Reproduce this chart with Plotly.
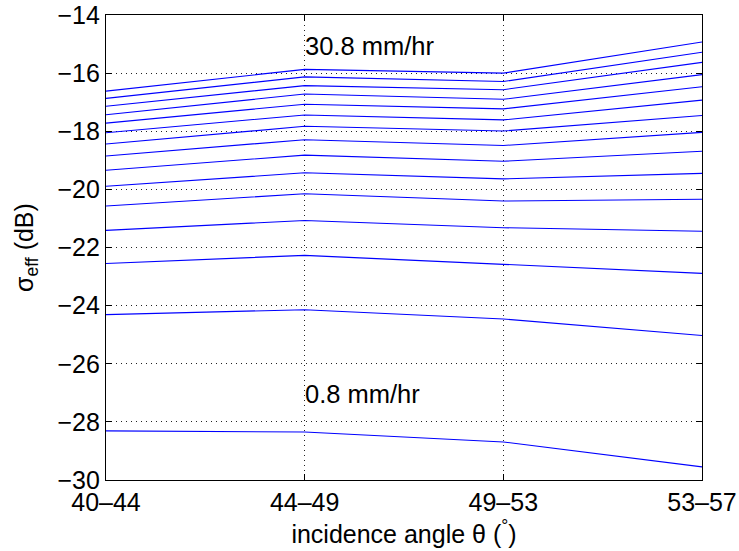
import plotly.graph_objects as go

angle_bins = ["40\u201344", "44\u201349", "49\u201353", "53\u201357"]

# sigma_eff (dB) for 15 rain rates (0.8 mm/hr ... 30.8 mm/hr), one list per angle bin
sigma_40_44 = [-28.31, -24.31, -22.55, -21.41, -20.57, -19.89, -19.34, -18.85,
               -18.44, -18.05, -17.72, -17.43, -17.14, -16.87, -16.62]
sigma_44_49 = [-28.35, -24.14, -22.27, -21.07, -20.15, -19.43, -18.82, -18.29,
               -17.83, -17.44, -17.07, -16.72, -16.43, -16.13, -15.87]
sigma_49_53 = [-28.69, -24.46, -22.58, -21.32, -20.40, -19.64, -19.03, -18.49,
               -17.99, -17.61, -17.23, -16.90, -16.57, -16.29, -16.00]
sigma_53_57 = [-29.55, -25.03, -22.89, -21.44, -20.34, -19.45, -18.69, -18.04,
               -17.46, -16.93, -16.47, -16.05, -15.63, -15.28, -14.93]

y_ticks = [-30, -28, -26, -24, -22, -20, -18, -16, -14]

label_low = "0.8 mm/hr"
label_high = "30.8 mm/hr"

FONT = "Liberation Sans, Arial, Helvetica, sans-serif"
FS = 25

fig = go.Figure()
x_idx = list(range(len(angle_bins)))
for a, b, c, d in zip(sigma_40_44, sigma_44_49, sigma_49_53, sigma_53_57):
    fig.add_trace(go.Scatter(
        x=x_idx, y=[a, b, c, d], mode="lines",
        line=dict(color="#0000ff", width=1.1),
        showlegend=False, hoverinfo="skip"))

fig.add_annotation(x=1, y=-15.07, text=label_high, showarrow=False,
                   xanchor="left", yanchor="middle", xshift=-2,
                   font=dict(size=FS + 0.5, color="black", family=FONT))
fig.add_annotation(x=1, y=-27.04, text=label_low, showarrow=False,
                   xanchor="left", yanchor="middle", xshift=-2,
                   font=dict(size=FS + 0.5, color="black", family=FONT))

grid = dict(showgrid=True, gridcolor="#222222", griddash="1px,4px", gridwidth=1)

fig.update_xaxes(
    range=[0, 3], tickmode="array", tickvals=x_idx, ticktext=angle_bins,
    ticks="inside", ticklen=6, tickcolor="black", tickwidth=1,
    showline=True, linecolor="black", linewidth=1.3, mirror="ticks",
    zeroline=False, automargin=False,
    tickfont=dict(size=FS, color="black", family=FONT),
    title=dict(text="incidence angle \u03b8 (<sup>\u00b0</sup>)",
               font=dict(size=FS, color="black", family=FONT), standoff=2),
    **grid)
fig.update_yaxes(
    range=[-30, -14], tickmode="array", tickvals=y_ticks,
    ticks="inside", ticklen=6, tickcolor="black", tickwidth=1,
    showline=True, linecolor="black", linewidth=1.3, mirror="ticks",
    zeroline=False, automargin=False,
    tickfont=dict(size=FS, color="black", family=FONT),
    title=dict(text="\u03c3<sub>eff</sub> (dB)",
               font=dict(size=FS, color="black", family=FONT), standoff=16),
    **grid)

fig.update_layout(
    width=739, height=551, autosize=False,
    margin=dict(l=106, r=37, t=15, b=71),
    paper_bgcolor="white", plot_bgcolor="white",
    font=dict(family=FONT, color="black"),
)

fig.write_html("out.html",
               config={"displayModeBar": False},
               post_script="document.body.style.margin='0';")
